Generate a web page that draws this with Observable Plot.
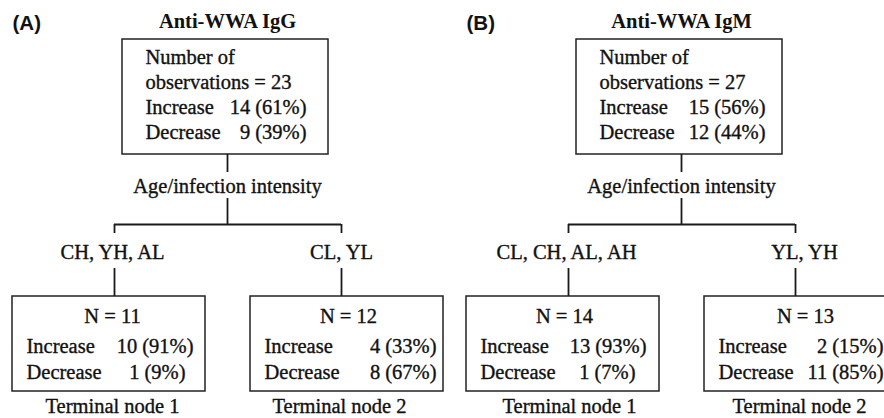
<!DOCTYPE html>
<html><head><meta charset="utf-8">
<script src="https://cdn.jsdelivr.net/npm/d3@7"></script>
<script src="https://cdn.jsdelivr.net/npm/@observablehq/plot@0.6"></script>
<style>body{margin:0;background:#fff} svg{display:block}</style>
</head><body><div id="chart"></div>
<script>
// ---------- data ----------
const panelLabels = ["(A)", "(B)"];
const titles = ["Anti-WWA IgG", "Anti-WWA IgM"];
const rootTotals = [23, 27];
const rootIncrease = [14, 15];
const rootIncreasePct = [61, 56];
const rootDecrease = [9, 12];
const rootDecreasePct = [39, 44];
const splitLabel = "Age/infection intensity";
const leftGroups = ["CH, YH, AL", "CL, CH, AL, AH"];
const rightGroups = ["CL, YL", "YL, YH"];
const nodeTotals = [[11, 12], [14, 13]];
const nodeIncrease = [[10, 4], [13, 2]];
const nodeIncreasePct = [[91, 33], [93, 15]];
const nodeDecrease = [[1, 8], [1, 11]];
const nodeDecreasePct = [[9, 67], [7, 85]];
const terminalLabels = ["Terminal node 1", "Terminal node 2"];

// ---------- layout (diagram geometry, px units of the x/y scales) ----------
const panelOrigin = [0, 454];
const rootBox = {x1: 122, x2: 328, y1: 39, y2: 154};
const rootTextLeft = 145, rootNumRight = [306, 311];
const rootRows = [57.4, 82.4, 107.4, 132.4];
const stemX = 227, splitTextY = 186, splitY = 224;
const branchX = [114, 341];
const groupTextX = [[112, 341], [112, 350]];
const groupTextY = 251.5;
const termBox = [{x1: 12, x2: 205}, {x1: 250, x2: 443}];
const termY1 = 296, termY2 = 391;
const termTextLeft = [26, 264];
// [panel][node] -> [increase row, decrease row] right edges of the count column
const termNumRight = [[[193, 185], [436, 436]], [[192, 181], [429, 429]]];
const termNX = [[112, 348], [110, 351]];
const termRows = [316.3, 346.3, 371.6];
const termLabelX = [[112, 339], [115, 345]];
const termLabelY = 406.3;

// ---------- build mark tables ----------
const boxes = [], vrules = [], hrules = [];
const bodyLeft = [], bodyRight = [], bodyMid = [];
const titleRows = [], panelRows = [];
panelLabels.forEach((lab, p) => {
  const o = panelOrigin[p];
  panelRows.push({x: 12 + o, y: 22.5, text: lab});
  titleRows.push({x: stemX + o, y: 20.5, text: titles[p]});
  boxes.push({x1: rootBox.x1 + o, x2: rootBox.x2 + o, y1: rootBox.y1, y2: rootBox.y2});
  bodyLeft.push({x: rootTextLeft + o, y: rootRows[0], text: "Number of"});
  bodyLeft.push({x: rootTextLeft + o, y: rootRows[1], text: `observations = ${rootTotals[p]}`});
  bodyLeft.push({x: rootTextLeft + o, y: rootRows[2], text: "Increase"});
  bodyLeft.push({x: rootTextLeft + o, y: rootRows[3], text: "Decrease"});
  bodyRight.push({x: rootNumRight[p] + o, y: rootRows[2], text: `${rootIncrease[p]} (${rootIncreasePct[p]}%)`});
  bodyRight.push({x: rootNumRight[p] + o, y: rootRows[3], text: `${rootDecrease[p]} (${rootDecreasePct[p]}%)`});
  vrules.push({x: stemX + o, y1: rootBox.y2, y2: 172});
  bodyMid.push({x: stemX + o, y: splitTextY, text: splitLabel});
  vrules.push({x: stemX + o, y1: 198, y2: splitY});
  hrules.push({y: splitY, x1: branchX[0] + o, x2: branchX[1] + o});
  const groups = [leftGroups[p], rightGroups[p]];
  [0, 1].forEach(k => {
    const bx = branchX[k] + o;
    vrules.push({x: bx, y1: splitY, y2: 233});
    vrules.push({x: bx, y1: 268, y2: termY1});
    bodyMid.push({x: groupTextX[p][k] + o, y: groupTextY, text: groups[k]});
    boxes.push({x1: termBox[k].x1 + o, x2: termBox[k].x2 + o, y1: termY1, y2: termY2});
    bodyMid.push({x: termNX[p][k] + o, y: termRows[0], text: `N = ${nodeTotals[p][k]}`});
    bodyLeft.push({x: termTextLeft[k] + o, y: termRows[1], text: "Increase"});
    bodyLeft.push({x: termTextLeft[k] + o, y: termRows[2], text: "Decrease"});
    bodyRight.push({x: termNumRight[p][k][0] + o, y: termRows[1], text: `${nodeIncrease[p][k]} (${nodeIncreasePct[p][k]}%)`});
    bodyRight.push({x: termNumRight[p][k][1] + o, y: termRows[2], text: `${nodeDecrease[p][k]} (${nodeDecreasePct[p][k]}%)`});
    bodyMid.push({x: termLabelX[p][k] + o, y: termLabelY, text: terminalLabels[k]});
  });
});

const serif = "'Liberation Serif', 'Times New Roman', serif";
const ink = "#111";
const fs = 20.5;
const textStyle = {x: "x", y: "y", text: "text", fontFamily: serif, fontSize: fs, fill: ink, stroke: ink, strokeWidth: 0.35};

const chart = Plot.plot({
  width: 884, height: 418, margin: 0,
  x: {domain: [0, 884], range: [0, 884], axis: null},
  y: {domain: [0, 418], range: [0, 418], axis: null},
  marks: [
    Plot.rect(boxes, {x1: "x1", x2: "x2", y1: "y1", y2: "y2", fill: "none", stroke: "#222", strokeWidth: 1.5}),
    Plot.ruleX(vrules, {x: "x", y1: "y1", y2: "y2", stroke: "#1a1a1a", strokeWidth: 1.8}),
    Plot.ruleY(hrules, {y: "y", x1: "x1", x2: "x2", stroke: "#1a1a1a", strokeWidth: 1.8}),
    Plot.text(bodyLeft, {...textStyle, textAnchor: "start"}),
    Plot.text(bodyRight, {...textStyle, textAnchor: "end"}),
    Plot.text(bodyMid, {...textStyle, textAnchor: "middle"}),
    Plot.text(titleRows, {x: "x", y: "y", text: "text", textAnchor: "middle", fontFamily: serif, fontWeight: "bold", fontSize: 20.5, fill: ink}),
    Plot.text(panelRows, {x: "x", y: "y", text: "text", textAnchor: "start", fontFamily: "'Liberation Sans', Arial, sans-serif", fontWeight: "bold", fontSize: 20.5, fill: ink})
  ]
});
document.getElementById("chart").appendChild(chart);
</script>
</body></html>
